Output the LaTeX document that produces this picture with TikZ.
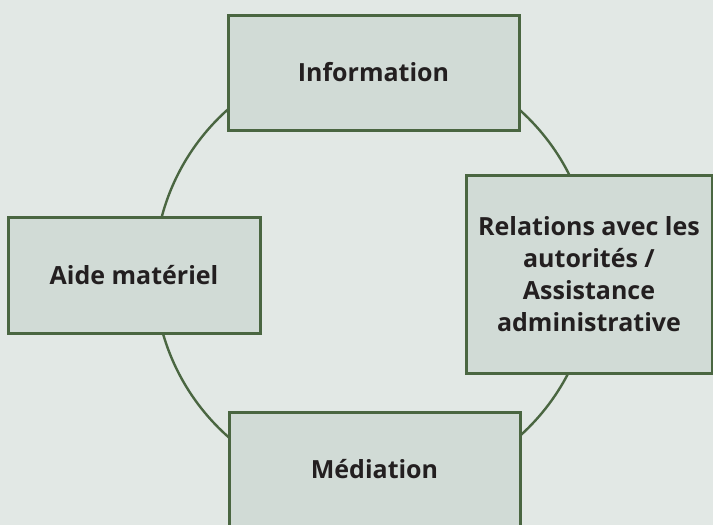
\documentclass[tikz,border=0pt]{standalone}
\usepackage{fontspec}
\setmainfont{Open Sans}
\definecolor{bgc}{HTML}{E2E8E5}
\definecolor{boxfill}{HTML}{D1DBD6}
\definecolor{boxline}{HTML}{4A6641}
\definecolor{txt}{HTML}{231F20}
\begin{document}
\begin{tikzpicture}[x=1pt,y=-1pt,
  box/.style={draw=boxline,line width=3pt,fill=boxfill,rectangle,inner sep=0pt,
    text=txt,font=\fontsize{25}{32}\selectfont\bfseries,align=center},
  ring/.style={draw=boxline,line width=2.4pt,circle,inner sep=0pt,minimum size=438pt}]
\useasboundingbox (0,0) rectangle (713,525);
\fill[bgc] (0,0) rectangle (713,525);
\node[ring] (cyc) at (373.5,273) {};
\node[box,minimum width=291pt,minimum height=115pt] (info) at (373.5,72.5) {Information};
\node[box,minimum width=246pt,minimum height=198pt] (rel) at (589,274) {Relations avec les\\autorités /\\Assistance\\administrative};
\node[box,minimum width=252pt,minimum height=116pt] (aide) at (134,275) {Aide matériel};
\node[box,minimum width=291pt,minimum height=115pt] (med) at (374.5,469.5) {Médiation};
\end{tikzpicture}
\end{document}
